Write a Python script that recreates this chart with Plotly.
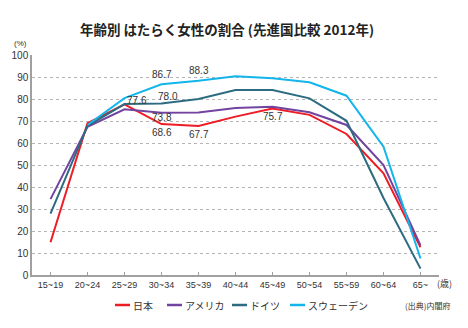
import plotly.graph_objects as go

# Age groups (x axis)
age_groups = ["15~19", "20~24", "25~29", "30~34", "35~39", "40~44",
              "45~49", "50~54", "55~59", "60~64", "65~"]

# Labour force participation rate of women by age (%), 2012
japan   = [14.9, 69.0, 77.6, 68.6, 67.7, 72.0, 75.7, 72.8, 64.1, 46.2, 12.6]
usa     = [34.5, 67.4, 75.3, 73.8, 73.9, 75.9, 76.5, 74.0, 68.2, 50.0, 13.5]
germany = [27.9, 67.8, 77.7, 78.0, 80.0, 84.1, 84.1, 80.3, 70.1, 35.0, 2.9]
sweden  = [None, 68.2, 80.4, 86.7, 88.3, 90.3, 89.4, 87.6, 81.5, 58.3, 7.5]

series_names = ["日本", "アメリカ", "ドイツ", "スウェーデン"]
series_values = [japan, usa, germany, sweden]
series_colors = ["#ee1c25", "#7244a0", "#2d6b80", "#13b5ea"]

y_ticks = list(range(0, 101, 10))

# Value labels: (series index, age-group index, x shift px, y shift px)
value_labels = [
    (3, 3, 0, 10), (3, 4, 0, 10),
    (0, 2, 12, 4), (2, 3, 6, 7),
    (1, 3, 0, -5), (0, 3, 0, -8),
    (0, 4, 0, -8), (0, 6, 0, -8),
]

W, H = 468, 328
ML, MR, MT, MB = 32, 29, 55, 53
plot_w = W - ML - MR
plot_h = H - MT - MB

FONT = "Liberation Sans, Noto Sans CJK JP, sans-serif"
JFONT = "Noto Sans CJK JP, sans-serif"
TXT = "#333333"


def px_to_paper(px, py):
    return (px - ML) / plot_w, (H - MB - py) / plot_h


def text_at(px, py, text, size, family=JFONT, xanchor="center", color=TXT):
    x, y = px_to_paper(px, py)
    return dict(x=x, y=y, xref="paper", yref="paper", text=text,
                xanchor=xanchor, yanchor="middle", showarrow=False,
                font=dict(family=family, size=size, color=color))


fig = go.Figure()
for name, vals, col in zip(series_names, series_values, series_colors):
    fig.add_trace(go.Scatter(
        x=age_groups, y=vals, name=name, mode="lines",
        line=dict(color=col, width=2), showlegend=False,
    ))

annotations = []
for si, ci, dx, dy in value_labels:
    v = series_values[si][ci]
    annotations.append(dict(
        x=age_groups[ci], y=v, xref="x", yref="y", text=f"{v:.1f}",
        xanchor="center", yanchor="middle",
        showarrow=False, xshift=dx, yshift=dy,
        font=dict(family=FONT, size=10, color=TXT),
    ))

# Title and unit / source notes
annotations.append(text_at(227, 29, "<b>年齢別 はたらく女性の割合 (先進国比較 2012年)</b>",
                           13.5, color="#222222"))
annotations.append(text_at(20, 44, "(%)", 8, family=FONT))
annotations.append(text_at(444, 283, "(歳)", 9))
annotations.append(text_at(427, 305, "(出典)内閣府", 8))

# Legend drawn as short line samples followed by the series name
shapes = []
legend_x = [115, 167, 232, 290]
legend_y = 305
for name, col, lx in zip(series_names, series_colors, legend_x):
    x0, y0 = px_to_paper(lx, legend_y)
    x1, _ = px_to_paper(lx + 15, legend_y)
    shapes.append(dict(type="line", xref="paper", yref="paper",
                       x0=x0, x1=x1, y0=y0, y1=y0,
                       line=dict(color=col, width=2.5)))
    annotations.append(text_at(lx + 16, legend_y, name, 10, xanchor="left"))

fig.update_layout(
    width=W, height=H,
    margin=dict(l=ML, r=MR, t=MT, b=MB, pad=0),
    paper_bgcolor="white", plot_bgcolor="white",
    font=dict(family=FONT, color=TXT),
    annotations=annotations, shapes=shapes,
    xaxis=dict(
        type="category", range=[-0.5, len(age_groups) - 0.5],
        showgrid=False, showline=True, linecolor="#a0a0a0", linewidth=1.5,
        ticks="inside", ticklen=3, tickcolor="#a0a0a0",
        tickfont=dict(family=FONT, size=9, color=TXT),
        zeroline=False,
    ),
    yaxis=dict(
        range=[0, 100], tickvals=y_ticks,
        showgrid=True, gridcolor="#b4b4b4", gridwidth=1, griddash="dot",
        showline=True, linecolor="#a0a0a0", linewidth=1.5,
        ticks="", tickfont=dict(family=FONT, size=10, color=TXT),
        zeroline=False,
    ),
)

fig.write_html("out.html")
